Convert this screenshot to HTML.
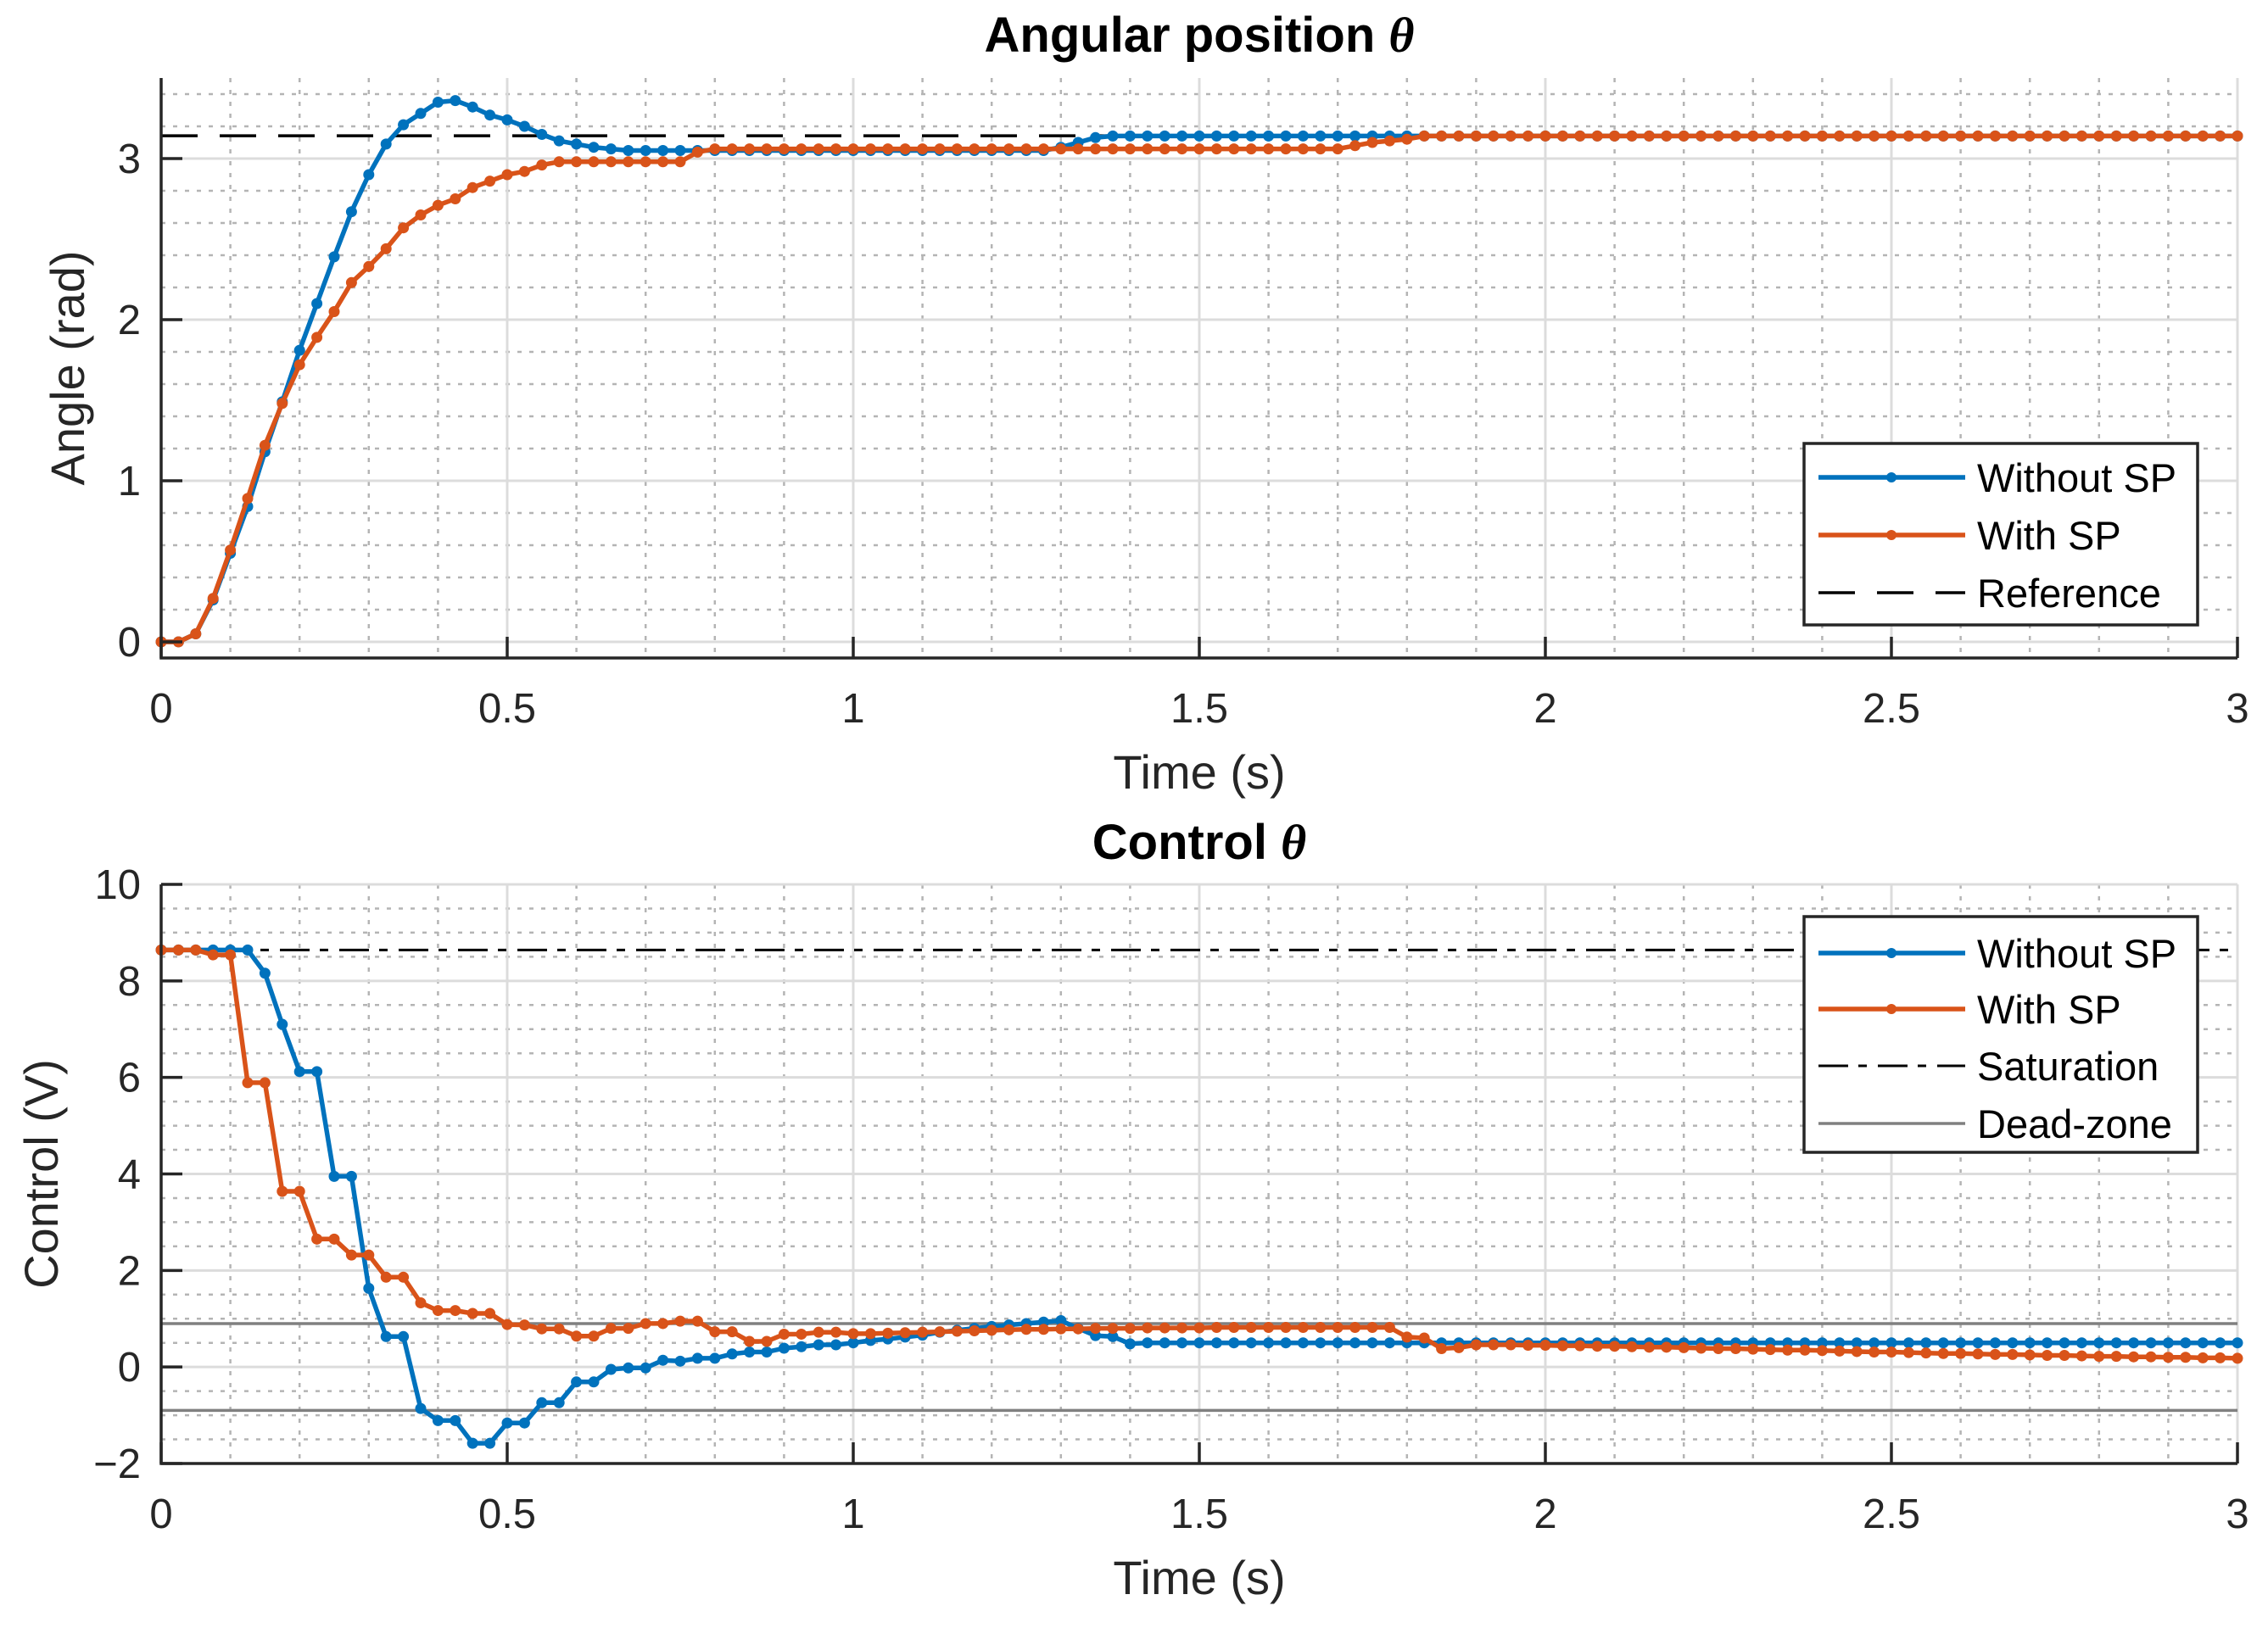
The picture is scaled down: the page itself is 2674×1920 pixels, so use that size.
<!DOCTYPE html>
<html><head><meta charset="utf-8"><style>
html,body{margin:0;padding:0;background:#fff;}
svg{display:block;font-family:"Liberation Sans",Arial,sans-serif;}
</style></head><body>
<svg id="fig" width="2674" height="1920" viewBox="0 0 2674 1920" xmlns="http://www.w3.org/2000/svg">
<rect x="0" y="0" width="2674" height="1920" fill="#fff"/>
<g id="top"></g>
<g id="bot"></g>
</svg>
<script>
const dt = 0.025;
const angleWithoutSP = [0,0,0.05,0.26,0.55,0.84,1.18,1.49,1.81,2.10,2.39,2.67,2.90,3.09,3.21,3.28,3.35,3.36,3.32,3.27,3.24,3.20,3.15,3.11,3.09,3.07,3.06,3.05,
3.05,3.05,3.05,3.05,3.05,3.05,3.05,3.05,3.05,3.05,3.05,3.05,3.05,3.05,3.05,3.05,3.05,3.05,3.05,3.05,3.05,3.05,3.05,3.05,
3.07,3.10,3.13,
3.14,3.14,3.14,3.14,3.14,3.14,3.14,3.14,3.14,3.14,3.14,3.14,3.14,3.14,3.14,3.14,3.14,3.14,3.14,3.14,3.14,3.14,3.14,3.14,3.14,3.14,3.14,3.14,3.14,3.14,3.14,3.14,3.14,3.14,3.14,3.14,3.14,3.14,3.14,3.14,3.14,3.14,3.14,3.14,3.14,3.14,3.14,3.14,3.14,3.14,3.14,3.14,3.14,3.14,3.14,3.14,3.14,3.14,3.14,3.14,3.14,3.14,3.14,3.14,3.14,3.14];
const angleWithSP = [0,0,0.05,0.27,0.57,0.89,1.22,1.48,1.72,1.89,2.05,2.23,2.33,2.44,2.57,2.65,2.71,2.75,2.82,2.86,2.90,2.92,2.96,2.98,2.98,2.98,2.98,2.98,2.98,2.98,2.98,3.04,3.06,
3.06,3.06,3.06,3.06,3.06,3.06,3.06,3.06,3.06,3.06,3.06,3.06,3.06,3.06,3.06,3.06,3.06,3.06,3.06,3.06,3.06,3.06,3.06,3.06,3.06,3.06,3.06,3.06,3.06,3.06,3.06,3.06,3.06,3.06,3.06,3.06,
3.08,3.10,3.11,3.12,
3.14,3.14,3.14,3.14,3.14,3.14,3.14,3.14,3.14,3.14,3.14,3.14,3.14,3.14,3.14,3.14,3.14,3.14,3.14,3.14,3.14,3.14,3.14,3.14,3.14,3.14,3.14,3.14,3.14,3.14,3.14,3.14,3.14,3.14,3.14,3.14,3.14,3.14,3.14,3.14,3.14,3.14,3.14,3.14,3.14,3.14,3.14,3.14];
const controlWithoutSP = [8.64,8.64,8.64,8.64,8.64,8.64,
8.16,7.10,6.12,6.12,3.95,3.95,1.63,0.63,0.63,-0.86,-1.11,-1.11,-1.58,-1.58,-1.16,-1.16,-0.74,-0.74,-0.31,-0.31,-0.05,-0.02,-0.02,0.14,0.12,0.18,0.18,0.27,0.31,0.31,0.39,0.42,0.46,0.46,0.50,
0.55,0.58,0.62,0.66,0.72,0.76,0.80,0.84,0.87,0.90,0.93,0.96,
0.80,0.65,0.63,0.48,
0.50,0.50,0.50,0.50,0.50,0.50,0.50,0.50,0.50,0.50,0.50,0.50,0.50,0.50,0.50,0.50,0.50,0.50,0.50,0.50,0.50,0.50,0.50,0.50,0.50,0.50,0.50,0.50,0.50,0.50,0.50,0.50,0.50,0.50,0.50,0.50,0.50,0.50,0.50,0.50,0.50,0.50,0.50,0.50,0.50,0.50,0.50,0.50,0.50,0.50,0.50,0.50,0.50,0.50,0.50,0.50,0.50,0.50,0.50,0.50,0.50,0.50,0.50,0.50];
const controlWithSP = [8.64,8.64,8.64,8.54,8.54,
5.89,5.89,3.64,3.64,2.65,2.65,2.32,2.32,1.86,1.86,1.33,1.17,1.17,1.11,1.11,
0.88,0.87,0.79,0.79,0.64,0.64,0.80,0.80,0.90,0.90,0.95,0.95,0.73,0.73,0.53,0.53,0.68,0.68,0.72,0.72,0.69,0.69,
0.70,0.71,0.72,0.73,0.74,0.75,0.76,0.77,0.78,0.78,0.79,0.79,0.80,0.80,0.80,0.81,0.81,0.81,0.81,0.82,0.82,0.82,0.82,0.82,0.82,0.82,0.82,0.82,0.82,0.82,
0.62,0.60,0.38,0.40,0.46,
0.46,0.46,0.45,0.45,0.44,0.44,0.43,0.43,0.42,0.41,0.41,0.40,0.39,0.38,0.38,0.37,0.36,0.35,0.35,0.34,0.33,0.32,0.31,0.31,0.30,0.29,0.28,0.28,0.27,0.26,0.26,0.25,0.24,0.24,0.23,0.22,0.22,0.21,0.21,0.20,0.20,0.19,0.19,0.18];
const referenceAngle = [3.1416];
const saturationLevel = [8.64];
const deadZoneLevels = [0.9, -0.9];
const xTicks = [0,0.5,1,1.5,2,2.5,3];
const xTickLabels = ["0","0.5","1","1.5","2","2.5","3"];
const topYTicks = [0,1,2,3];
const topYTickLabels = ["0","1","2","3"];
const botYTicks = [-2,0,2,4,6,8,10];
const botYTickLabels = ["\u22122","0","2","4","6","8","10"];

const NS = "http://www.w3.org/2000/svg";
const BLUE = "#0072BD", ORANGE = "#D95319";
function mk(parent, tag, attrs){ const e=document.createElementNS(NS,tag); for(const k in attrs) e.setAttribute(k,attrs[k]); parent.appendChild(e); return e; }

const X0=190, X1=2638;
function sx(t){ return X0 + (t/3)*(X1-X0); }

function axes(g, yMin, yMax, yTop, yBot, majors, minorStep){
  const sy = v => yBot - (v-yMin)/(yMax-yMin)*(yBot-yTop);
  for(let i=1;i<30;i++){ if(i%5===0) continue; const x=sx(i*0.1);
    const l=mk(g,"line",{x1:x,x2:x,y1:yTop,y2:yBot,stroke:"#b4b4b4","stroke-width":2.5,"stroke-dasharray":"5 9"});
    
    
  }
  const k0=Math.ceil(yMin/minorStep-1e-6), k1=Math.floor(yMax/minorStep+1e-6);
  for(let k=k0;k<=k1;k++){ const v=k*minorStep; if(majors.some(m=>Math.abs(m-v)<1e-6)) continue;
    const y=sy(v);
    const l=mk(g,"line",{x1:X0,x2:X1,y1:y,y2:y,stroke:"#b4b4b4","stroke-width":2.5,"stroke-dasharray":"5 9"});
    
    
  }
  xTicks.forEach(t=>{ if(t===0) return; const l=mk(g,"line",{x1:sx(t),x2:sx(t),y1:yTop,y2:yBot,stroke:"#dcdcdc","stroke-width":3});
    
    
  });
  majors.forEach(v=>{ const l=mk(g,"line",{x1:X0,x2:X1,y1:sy(v),y2:sy(v),stroke:"#dcdcdc","stroke-width":3});
    
    
  });
  return sy;
}

function finishAxes(g, sy, yTop, yBot, majors, labels, xlabelTxt, ylabelTxt, titleTxt, titleY, ylabelX){
  const ax=mk(g,"path",{d:`M${X0},${yTop} L${X0},${yBot} L${X1},${yBot}`,fill:"none",stroke:"#262626","stroke-width":3.5});
  
  
  xTicks.forEach((t,i)=>{ const x=sx(t);
    const tk=mk(g,"line",{x1:x,x2:x,y1:yBot,y2:yBot-25,stroke:"#262626","stroke-width":3.5});
    
    
    const tx=mk(g,"text",{x:x,y:yBot+76,"font-size":49,fill:"#262626","text-anchor":"middle"}); tx.textContent=xTickLabels[i];
    
    
  });
  majors.forEach((v,i)=>{ const y=sy(v);
    const tk=mk(g,"line",{x1:X0,x2:X0+25,y1:y,y2:y,stroke:"#262626","stroke-width":3.5});
    
    
    const tx=mk(g,"text",{x:166,y:y+17,"font-size":49,fill:"#262626","text-anchor":"end"}); tx.textContent=labels[i];
    
    
  });
  const xl=mk(g,"text",{x:(X0+X1)/2,y:yBot+154,"font-size":56,fill:"#262626","text-anchor":"middle"}); xl.textContent=xlabelTxt;
  
  
  const yc=(yTop+yBot)/2;
  const yl=mk(g,"text",{x:ylabelX,y:yc,"font-size":56,fill:"#262626","text-anchor":"middle",transform:`rotate(-90 ${ylabelX} ${yc})`}); yl.textContent=ylabelTxt;
  
  
  const ti=mk(g,"text",{x:(X0+X1)/2,y:titleY,"font-size":58,"font-weight":"bold",fill:"#000","text-anchor":"middle"});
  ti.textContent=titleTxt+" ";
  const th=mk(ti,"tspan",{"font-family":"'Liberation Serif',serif","font-style":"italic"}); th.textContent="\u03B8";
  
  
}

function hline(g, y, stroke, w, dash, name){
  const l=mk(g,"line",{x1:X0,x2:X1,y1:y,y2:y,stroke:stroke,"stroke-width":w});
  if(dash) l.setAttribute("stroke-dasharray",dash);
  
  
}

function series(g, vals, sy, color, name){
  const pts=vals.map((v,i)=>[sx(i*dt),sy(v)]);
  const p=mk(g,"polyline",{points:pts.map(q=>q[0].toFixed(1)+","+q[1].toFixed(1)).join(" "),fill:"none",stroke:color,"stroke-width":5.5,"stroke-linejoin":"round"});
  
  
  pts.forEach(q=>{ const c=mk(g,"circle",{cx:q[0],cy:q[1],r:6.5,fill:color});
    
    
  });
}

function legend(g, x, y, w, rowYs, items){
  const b=mk(g,"rect",{x:x,y:y,width:w,height:rowYs.h,fill:"#fff",stroke:"#262626","stroke-width":3.5});
  
  
  items.forEach((it,i)=>{ const ry=rowYs.rows[i];
    const l=mk(g,"line",{x1:2144,x2:2317,y1:ry,y2:ry,stroke:it.c,"stroke-width":it.w});
    if(it.d) l.setAttribute("stroke-dasharray",it.d);
    
    
    if(it.m){ const c=mk(g,"circle",{cx:2230,cy:ry,r:6,fill:it.c});
      
       }
    const t=mk(g,"text",{x:2331,y:ry+17,"font-size":47,fill:"#000"}); t.textContent=it.t;
    
    
  });
}

const gt=document.getElementById("top");
const tTop=92, tBot=776;
const syT=axes(gt,-0.1,3.5,tTop,tBot,topYTicks,0.2);
hline(gt, syT(referenceAngle[0]), "#000", 3.5, "43 26", "reference-line");
series(gt, angleWithoutSP, syT, BLUE, "without-sp");
series(gt, angleWithSP, syT, ORANGE, "with-sp");
finishAxes(gt, syT, tTop, tBot, topYTicks, topYTickLabels, "Time (s)", "Angle (rad)", "Angular position", 61, 99);
legend(gt, 2127, 523, 464, {h:214, rows:[563,631,699]}, [
  {c:BLUE,w:5.5,m:true,t:"Without SP"},
  {c:ORANGE,w:5.5,m:true,t:"With SP"},
  {c:"#000",w:3.5,d:"43 26",t:"Reference"}]);

const gb=document.getElementById("bot");
const bTop=1043, bBot=1726;
const syB=axes(gb,-2,10,bTop,bBot,botYTicks,0.5);
hline(gb, syB(saturationLevel[0]), "#000", 3, "35 12 10 13", "saturation-line");
deadZoneLevels.forEach(v=>hline(gb, syB(v), "#808080", 3.5, null, "dead-zone-line"));
series(gb, controlWithoutSP, syB, BLUE, "without-sp");
series(gb, controlWithSP, syB, ORANGE, "with-sp");
finishAxes(gb, syB, bTop, bBot, botYTicks, botYTickLabels, "Time (s)", "Control (V)", "Control", 1013, 68);
legend(gb, 2127, 1081, 464, {h:278, rows:[1124,1190,1257,1325]}, [
  {c:BLUE,w:5.5,m:true,t:"Without SP"},
  {c:ORANGE,w:5.5,m:true,t:"With SP"},
  {c:"#000",w:3,d:"35 12 10 13",t:"Saturation"},
  {c:"#808080",w:3.5,t:"Dead-zone"}]);
</script>
</body></html>
